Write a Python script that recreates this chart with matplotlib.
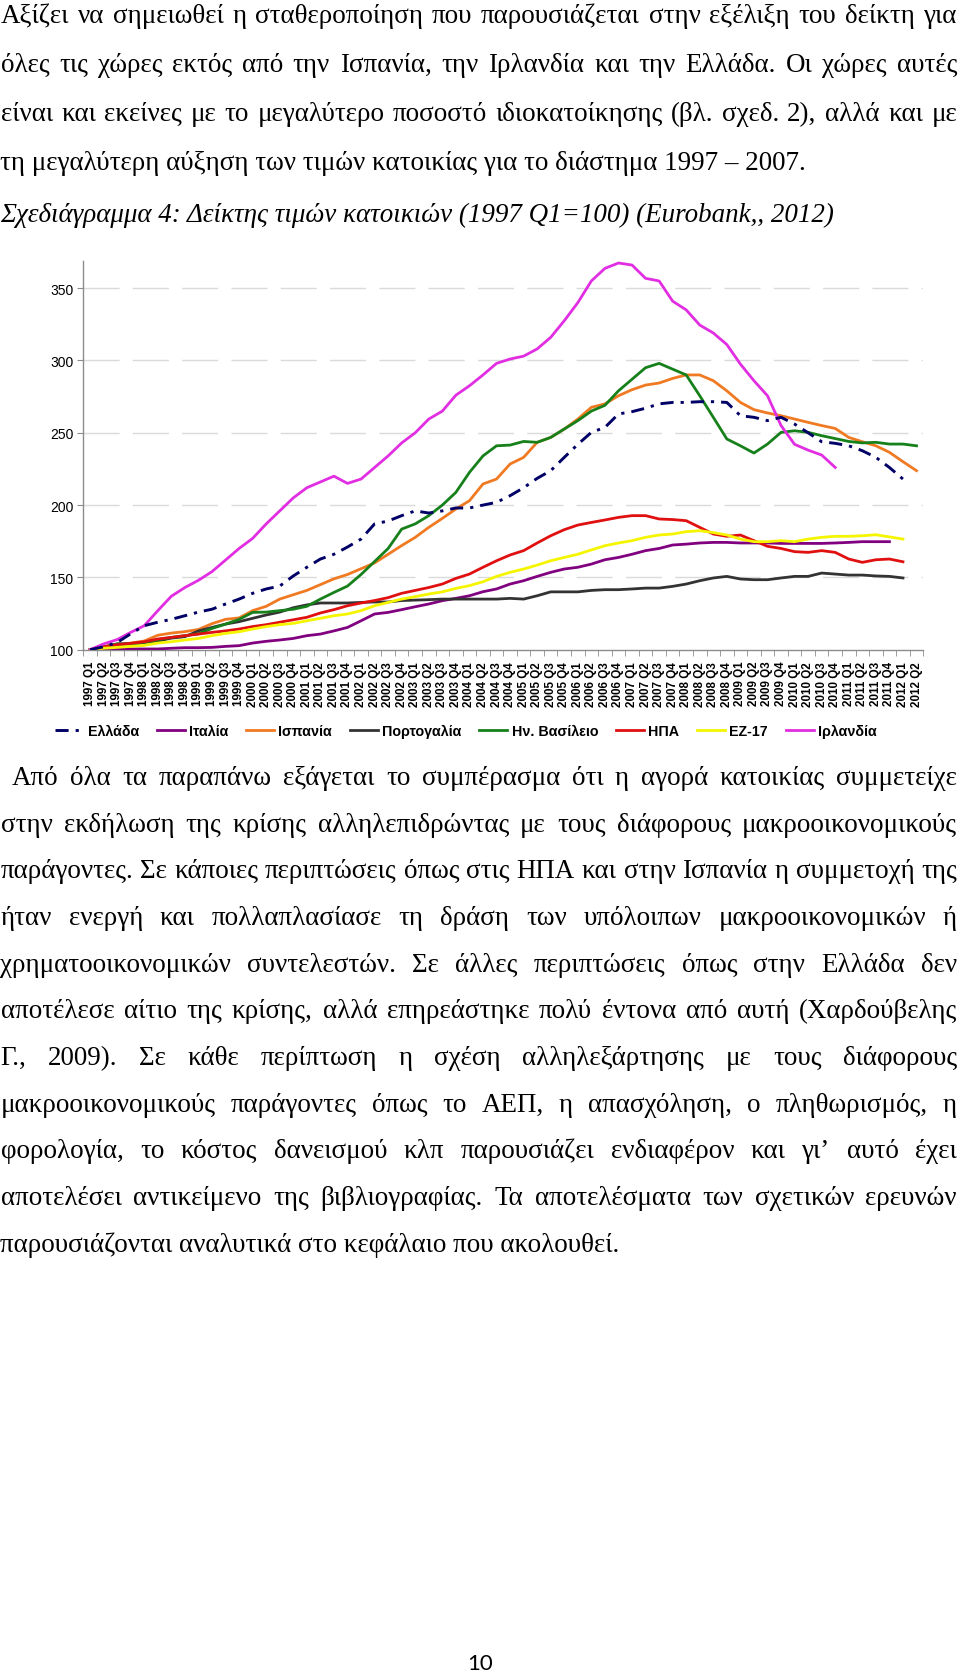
import matplotlib
matplotlib.use('Agg')
import matplotlib.pyplot as plt
from matplotlib.font_manager import FontProperties

# ---------------- data ----------------
years = list(range(1997, 2013))
quarters = [f"{y} Q{q}" for y in years for q in (1, 2, 3, 4)][:62]

greece = [100, 102, 105, 111, 116.6, 119, 121, 123.5, 126, 128,
          131.6, 135, 139, 142, 144, 151, 157, 162.7, 166, 171,
          176.5, 187, 189, 192.7, 196, 194.5, 196, 198, 198, 200,
          201.9, 206.5, 212, 218.5, 223.8, 233, 242, 250.3, 253.7, 263,
          264.6, 267, 270, 271, 271, 271.5, 271.5, 271, 261.8, 260.7,
          258.4, 260.7, 256, 250, 243.8, 242.7, 241, 237.6, 233, 226, 218]
italy = [100, 100.5, 100.5, 100.5, 100.5, 100.5, 101, 101.4, 101.4, 101.6,
         102.3, 102.8, 104.6, 105.8, 106.7, 107.8, 109.7, 110.8, 113, 115.4,
         120, 124.7, 125.8, 127.7, 129.7, 131.6, 133.9, 135.5, 137.3, 140.1,
         142, 145.4, 147.7, 150.7, 153.5, 155.8, 157, 159.2, 162.2, 163.8,
         166, 168.5, 170, 172.4, 173, 173.8, 174.2, 174.2, 173.8, 173.8,
         173.8, 173.5, 173.5, 173.5, 173.5, 173.8, 174.2, 174.7, 174.7, 174.7]
spain = [100, 102, 103, 104.6, 106, 110, 111.5, 112.5, 114, 118,
         121, 122, 127, 130, 135, 138, 141, 145, 149, 152,
         156, 160, 166, 172, 177.7, 184.6, 190.8, 197.3, 203, 214.6,
         218, 228.4, 233, 243.4, 246.8, 252.6, 259.5, 267.6, 270, 275.6,
         279.8, 283, 284.4, 287.6, 290, 290, 286, 279, 271, 266,
         263.7, 261.8, 259.5, 257.2, 255, 253, 246.8, 243.8, 241, 236.5,
         230, 223.8]
portugal = [100, 101.6, 104, 104, 105, 106, 108, 109, 113, 115.4,
            117.7, 119.4, 121.7, 124, 126, 129, 131, 132.3, 132.3, 132.3,
            132.7, 133, 133, 134, 134.3, 134.6, 135, 135, 135, 135,
            135, 135.5, 135, 137.3, 140, 140, 140, 141, 141.5, 141.5,
            142, 142.6, 142.6, 143.8, 145.4, 147.7, 149.6, 150.7, 148.9, 148.4,
            148.4, 149.6, 150.7, 150.7, 153, 152.3, 151.6, 151.6, 151, 150.7,
            149.6]
uk = [100, 102, 104, 104, 105, 107, 108.5, 109.7, 111, 114.7,
      117.7, 121, 125.8, 126, 127, 128, 130, 135, 139.6, 144,
      152, 161, 170, 183.4, 187, 192.7, 200, 208.8, 222.6, 234,
      241, 241.5, 244, 243.4, 246.8, 252.6, 258.4, 265, 269, 279,
      287, 295, 298, 294, 290, 275.6, 260.7, 245.7, 241, 236,
      242.2, 250.3, 251.4, 250.3, 248, 246, 244, 243, 243.4, 242.2,
      242.2, 241]
usa = [100, 102, 103.5, 104.4, 105.5, 107.4, 108.5, 109.7, 110.8, 112,
       113, 114.3, 116, 117.3, 119, 120.7, 122.4, 125.4, 127.7, 130.4,
       132.3, 134, 136, 139, 141, 143, 145.4, 149.3, 152.3, 157,
       161.5, 165.5, 168.5, 173.8, 178.8, 183, 186.2, 188, 189.7, 191.5,
       192.7, 192.7, 190.4, 190, 189.2, 184.6, 180, 178.4, 179.3, 175.4,
       171.5, 170, 167.8, 167.3, 168.5, 167.3, 162.7, 160.4, 162.2, 162.7,
       160.8]
ez17 = [100, 101, 101.6, 102.3, 103, 104.6, 105.5, 106.7, 107.8, 109.7,
        111.3, 112.4, 114.3, 116, 117.3, 118.2, 120, 121.7, 123.5, 124.7,
        127, 130.4, 132.7, 135, 136.7, 138.5, 140, 142.4, 144.3, 147,
        150.7, 153.5, 155.8, 158.5, 161.5, 163.8, 166, 169, 171.9, 173.8,
        175.4, 177.7, 179.3, 180, 181.6, 182.3, 181, 179.3, 176.5, 174.7,
        174.7, 175.4, 174.7, 176.5, 177.7, 178.4, 178.4, 178.8, 179.5, 178,
        176.5]
ireland = [100, 104, 107, 112, 116.6, 127, 137, 143, 148, 154,
           162, 170, 177, 187, 196, 205, 212, 216, 220, 215,
           218, 226, 234, 243, 250, 259.5, 265, 276, 282.5, 290,
           298, 301, 303, 308, 316, 327.5, 340, 355, 363.7, 367.4,
           366, 356.8, 355, 341, 335, 324.5, 319, 311, 297.5, 286,
           275.6, 255, 242, 238, 234.6, 226]

series_names = ["Ελλάδα", "Ιταλία", "Ισπανία", "Πορτογαλία",
                "Ην. Βασίλειο", "ΗΠΑ", "ΕΖ-17", "Ιρλανδία"]
series_values = [greece, italy, spain, portugal, uk, usa, ez17, ireland]
series_colors = ["#000066", "#800080", "#f07a22", "#333333",
                 "#16801a", "#e01010", "#f5f500", "#e22ee2"]
yticks = [100, 150, 200, 250, 300, 350]

# ---------------- text ----------------
top_lines = [
    "Αξίζει να σημειωθεί η σταθεροποίηση που παρουσιάζεται στην εξέλιξη του δείκτη για",
    "όλες τις χώρες εκτός από την Ισπανία, την Ιρλανδία και την Ελλάδα. Οι χώρες αυτές",
    "είναι και εκείνες με το μεγαλύτερο ποσοστό ιδιοκατοίκησης (βλ. σχεδ. 2), αλλά και με",
    "τη μεγαλύτερη αύξηση των τιμών κατοικίας για το διάστημα 1997 – 2007.",
]
caption = "Σχεδιάγραμμα 4: Δείκτης τιμών κατοικιών (1997 Q1=100) (Eurobank,, 2012)"
bottom_lines = [
    "Από όλα τα παραπάνω εξάγεται το συμπέρασμα ότι η αγορά κατοικίας συμμετείχε",
    "στην εκδήλωση της κρίσης αλληλεπιδρώντας με τους διάφορους μακροοικονομικούς",
    "παράγοντες. Σε κάποιες περιπτώσεις όπως στις ΗΠΑ και στην Ισπανία η συμμετοχή της",
    "ήταν ενεργή και πολλαπλασίασε τη δράση των υπόλοιπων μακροοικονομικών ή",
    "χρηματοοικονομικών συντελεστών. Σε άλλες περιπτώσεις όπως στην Ελλάδα δεν",
    "αποτέλεσε αίτιο της κρίσης, αλλά επηρεάστηκε πολύ έντονα από αυτή (Χαρδούβελης",
    "Γ., 2009). Σε κάθε περίπτωση η σχέση αλληλεξάρτησης με τους διάφορους",
    "μακροοικονομικούς παράγοντες όπως το ΑΕΠ, η απασχόληση, ο πληθωρισμός, η",
    "φορολογία, το κόστος δανεισμού κλπ παρουσιάζει ενδιαφέρον και γι’ αυτό έχει",
    "αποτελέσει αντικείμενο της βιβλιογραφίας. Τα αποτελέσματα των σχετικών ερευνών",
    "παρουσιάζονται αναλυτικά στο κεφάλαιο που ακολουθεί.",
]
page_number = "10"

# ---------------- figure ----------------
W, H = 960, 1674
fig = plt.figure(figsize=(W / 100, H / 100), dpi=100)
fig.patch.set_facecolor("white")
renderer = fig.canvas.get_renderer()
SERIF = ["Liberation Serif", "DejaVu Serif"]
SANS = ["Liberation Sans", "DejaVu Sans"]


def fx(px):
    return px / W


def fy(py):
    return 1 - py / H


def text_w(s, size, style="normal"):
    t = fig.text(0, 0, s, fontsize=size, family=SERIF, style=style)
    w = t.get_window_extent(renderer).width
    t.remove()
    return w


def space_w(size):
    return text_w("x x", size) - text_w("xx", size)


# choose font size so every justified line fits with at least ~0.9 space
RIGHT = 957
just = [(l, 0.5) for l in top_lines[:3]] + [(l, 11.7) for l in bottom_lines[:10]]
ratios = []
for line, x0 in just:
    words = line.split()
    nat = sum(text_w(w, 10) for w in words) + (len(words) - 1) * 0.9 * space_w(10)
    ratios.append((RIGHT - x0) / nat)
FS = min(20.5, 10 * min(ratios))


def draw_line(line, yb, x0, justify, style="normal"):
    if not justify:
        fig.text(fx(x0), fy(yb), line, fontsize=FS, family=SERIF, style=style,
                 ha="left", va="baseline")
        return
    words = line.split()
    widths = [text_w(w, FS) for w in words]
    gap = (RIGHT - x0 - sum(widths)) / (len(words) - 1)
    x = x0
    for w, wd in zip(words, widths):
        fig.text(fx(x), fy(yb), w, fontsize=FS, family=SERIF, style=style,
                 ha="left", va="baseline")
        x += wd + gap


top_base = [23.3, 72.3, 121.3, 169.5]
for i, line in enumerate(top_lines):
    draw_line(line, top_base[i], 0.5, i < 3)
draw_line(caption, 221.5, 0.5, False, style="italic")

bot_base = [785 + 46.67 * i for i in range(len(bottom_lines))]
for i, line in enumerate(bottom_lines):
    draw_line(line, bot_base[i], 11.7 if i == 0 else 0.5, i < 10)

fig.text(fx(480.5), fy(1670), page_number, fontsize=16,
         family=["Lato", "DejaVu Sans"], ha="center", va="baseline")

# ---------------- chart ----------------
ax_l, ax_r, ax_t, ax_b = 83.3, 923.3, 261.7, 650.7
ax = fig.add_axes([fx(ax_l), fy(ax_b), (ax_r - ax_l) / W, (ax_b - ax_t) / H])
ax.set_xlim(-0.5, len(quarters) - 0.5)
ax.set_ylim(100, 369)

for name, vals, col in zip(series_names, series_values, series_colors):
    xs = list(range(len(vals)))
    if name == "Ελλάδα":
        ax.plot(xs, vals, color=col, lw=2.1, ls=(0, (4.5, 2.4, 1.1, 2.4)),
                label=name, zorder=4)
    else:
        ax.plot(xs, vals, color=col, lw=2.0, label=name, zorder=3,
                solid_joinstyle="round")

for s in ("top", "right"):
    ax.spines[s].set_visible(False)
for s in ("left", "bottom"):
    ax.spines[s].set_color("#8c8c8c")
    ax.spines[s].set_linewidth(1.0)

ax.set_yticks(yticks)
ax.set_yticklabels([str(v) for v in yticks], fontsize=10, family=SANS)
ax.tick_params(axis="y", direction="out", length=4, color="#8c8c8c", pad=3)
for v in yticks[1:]:
    ax.axhline(v, color="#dadada", lw=1.0, ls=(0, (26, 9.5)), zorder=1)

ax.set_xticks(range(len(quarters)))
ax.set_xticklabels(quarters, rotation=90, fontsize=8.4, family=SANS,
                   fontweight="bold")
ax.tick_params(axis="x", which="major", length=0, pad=8)
ax.set_xticks([i - 0.5 for i in range(len(quarters) + 1)], minor=True)
ax.tick_params(axis="x", which="minor", direction="out", length=4,
               color="#8c8c8c")

handles, labels = ax.get_legend_handles_labels()
fig.legend(handles, labels, loc="center", bbox_to_anchor=(fx(466), fy(732)),
           ncol=8, frameon=False,
           prop=FontProperties(family=SANS, weight="bold", size=10.3),
           handlelength=1.95, handletextpad=0.3, columnspacing=1.25,
           borderaxespad=0, borderpad=0)

fig.savefig("out.png", dpi=100, facecolor="white")
